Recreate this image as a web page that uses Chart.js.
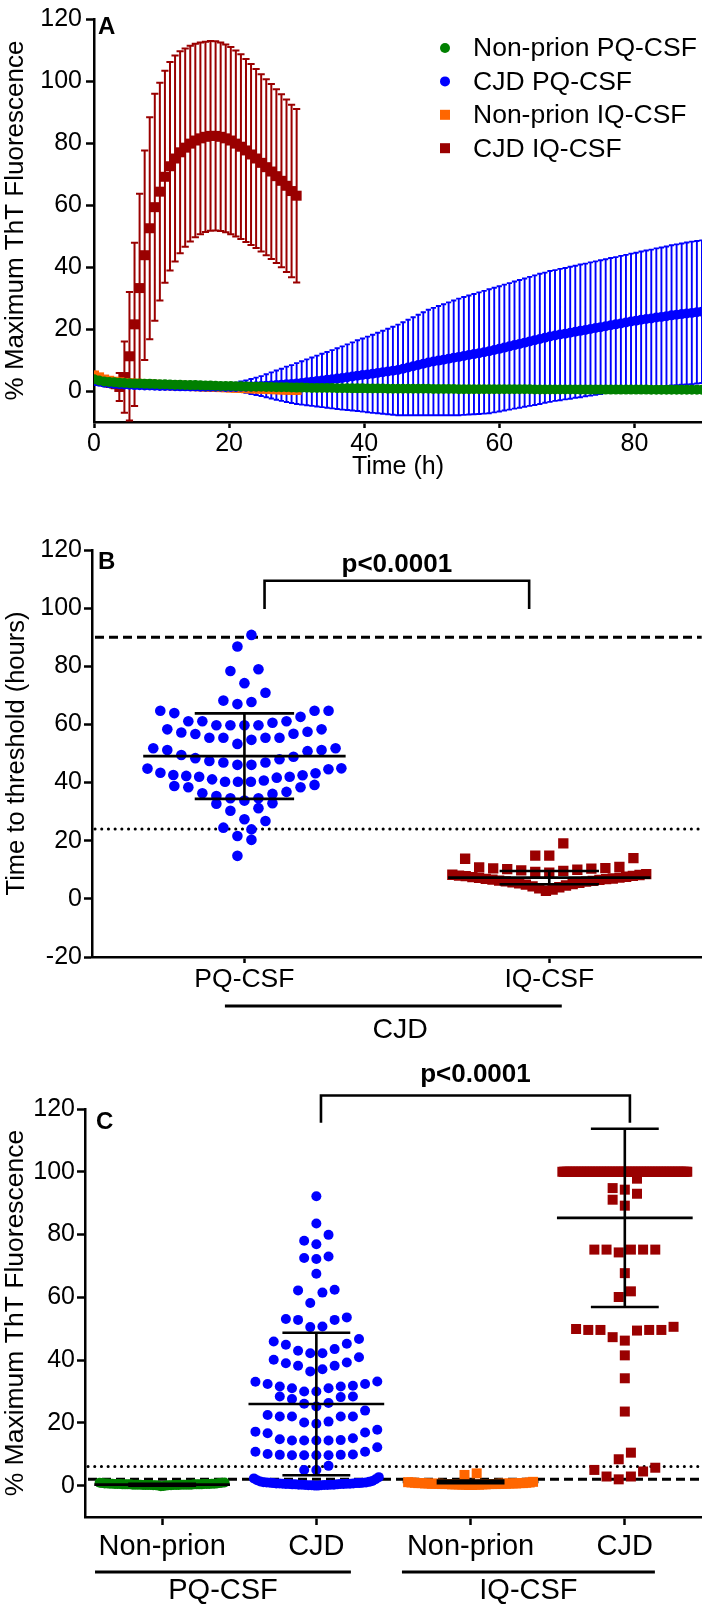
<!DOCTYPE html>
<html>
<head>
<meta charset="utf-8">
<title>RT-QuIC ThT fluorescence</title>
<script src="https://cdn.jsdelivr.net/npm/chart.js@4.4.1/dist/chart.umd.min.js"></script>
<style>
  html, body { margin:0; padding:0; background:#ffffff; }
  body { width:709px; height:1611px; position:relative; overflow:hidden; }
  .panel { position:absolute; left:0; width:709px; }
  #pa { top:0; height:480px; }
  #pb { top:490px; height:555px; }
  #pc { top:1050px; height:561px; }
</style>
</head>
<body>
<div class="panel" id="pa"><canvas id="chartA"></canvas></div>
<div class="panel" id="pb"><canvas id="chartB"></canvas></div>
<div class="panel" id="pc"><canvas id="chartC"></canvas></div>
<script>
// ======================= DATA =======================
// ---- Panel A : kinetics (mean, SD) ----
const seriesA = ['Non-prion PQ-CSF', 'CJD PQ-CSF', 'Non-prion IQ-CSF', 'CJD IQ-CSF'];
const timeA = [0,0.75,1.5,2.25,3,3.75,4.5,5.25,6,6.75,7.5,8.25,
  9,9.75,10.5,11.25,12,12.75,13.5,14.25,15,15.75,16.5,17.25,
  18,18.75,19.5,20.25,21,21.75,22.5,23.25,24,24.75,25.5,26.25,
  27,27.75,28.5,29.25,30,30.75,31.5,32.25,33,33.75,34.5,35.25,
  36,36.75,37.5,38.25,39,39.75,40.5,41.25,42,42.75,43.5,44.25,
  45,45.75,46.5,47.25,48,48.75,49.5,50.25,51,51.75,52.5,53.25,
  54,54.75,55.5,56.25,57,57.75,58.5,59.25,60,60.75,61.5,62.25,
  63,63.75,64.5,65.25,66,66.75,67.5,68.25,69,69.75,70.5,71.25,
  72,72.75,73.5,74.25,75,75.75,76.5,77.25,78,78.75,79.5,80.25,
  81,81.75,82.5,83.25,84,84.75,85.5,86.25,87,87.75,88.5,89.25,
  90];
const timeIQ = [0,0.75,1.5,2.25,3,3.75,4.5,5.25,6,6.75,7.5,8.25,
  9,9.75,10.5,11.25,12,12.75,13.5,14.25,15,15.75,16.5,17.25,
  18,18.75,19.5,20.25,21,21.75,22.5,23.25,24,24.75,25.5,26.25,
  27,27.75,28.5,29.25,30];
const nonPrionPQMean = [3.8,3.4,3.1,2.9,2.8,2.7,2.6,2.5,2.45,2.4,2.35,2.3,
  2.25,2.2,2.15,2.1,2.05,2.0,1.95,1.9,1.9,1.85,1.8,1.75,
  1.7,1.65,1.6,1.6,1.55,1.5,1.45,1.4,1.4,1.35,1.3,1.3,
  1.25,1.2,1.2,1.15,1.1,1.1,1.05,1.0,1.0,1.0,0.95,0.95,
  0.9,0.9,0.9,0.85,0.85,0.85,0.8,0.8,0.8,0.8,0.75,0.75,
  0.75,0.75,0.7,0.7,0.7,0.7,0.7,0.65,0.65,0.65,0.65,0.65,
  0.6,0.6,0.6,0.6,0.6,0.6,0.6,0.6,0.55,0.55,0.55,0.55,
  0.55,0.55,0.55,0.5,0.5,0.5,0.5,0.5,0.5,0.5,0.5,0.5,
  0.45,0.45,0.45,0.45,0.45,0.45,0.45,0.45,0.45,0.45,0.45,0.45,
  0.45,0.45,0.4,0.4,0.4,0.4,0.4,0.4,0.4,0.4,0.4,0.4,
  0.4];
const nonPrionPQSD = [1.2,1.1,1.0,1.0,0.9,0.9,0.9,0.9,0.8,0.8,0.8,0.8,
  0.8,0.8,0.8,0.8,0.8,0.8,0.7,0.7,0.7,0.7,0.7,0.7,
  0.7,0.7,0.7,0.7,0.7,0.7,0.7,0.7,0.7,0.7,0.7,0.7,
  0.7,0.7,0.7,0.7,0.7,0.7,0.6,0.6,0.6,0.6,0.6,0.6,
  0.6,0.6,0.6,0.6,0.6,0.6,0.6,0.6,0.6,0.6,0.6,0.6,
  0.6,0.6,0.6,0.6,0.6,0.6,0.6,0.6,0.6,0.6,0.6,0.6,
  0.5,0.5,0.5,0.5,0.5,0.5,0.5,0.5,0.5,0.5,0.5,0.5,
  0.5,0.5,0.5,0.5,0.5,0.5,0.5,0.5,0.5,0.5,0.5,0.5,
  0.5,0.5,0.5,0.5,0.5,0.5,0.5,0.5,0.5,0.5,0.5,0.5,
  0.5,0.5,0.5,0.5,0.5,0.5,0.5,0.5,0.5,0.5,0.5,0.5,
  0.5];
const cjdPQMean = [3.2,3.0,2.7,2.5,2.3,2.2,2.1,2.0,1.9,1.85,1.8,1.75,
  1.7,1.65,1.6,1.6,1.55,1.5,1.5,1.45,1.45,1.4,1.4,1.4,
  1.35,1.35,1.3,1.3,1.3,1.35,1.4,1.45,1.5,1.6,1.7,1.8,
  1.9,2.0,2.15,2.25,2.4,2.6,2.8,3.0,3.2,3.4,3.6,3.8,
  4.0,4.2,4.45,4.7,4.95,5.15,5.35,5.55,5.8,6.05,6.3,6.55,
  6.8,7.2,7.6,8.0,8.4,8.8,9.2,9.5,9.8,10.1,10.4,10.7,
  11.0,11.3,11.6,11.9,12.2,12.5,12.8,13.2,13.6,14.0,14.4,14.8,
  15.2,15.6,16.0,16.4,16.8,17.2,17.6,17.9,18.2,18.5,18.8,19.1,
  19.4,19.7,20.0,20.3,20.6,20.9,21.2,21.5,21.8,22.1,22.4,22.7,
  23.0,23.2,23.4,23.7,23.9,24.1,24.4,24.6,24.8,25.0,25.2,25.4,
  25.6];
const cjdPQSD = [1.2,1.1,1.0,1.0,0.9,0.9,0.9,0.8,0.8,0.8,0.8,0.8,
  0.8,0.8,0.8,0.8,0.8,0.8,0.8,0.8,0.9,0.9,0.9,0.9,
  1.0,1.0,1.1,1.2,1.4,1.7,2.0,2.4,2.8,3.2,3.7,4.2,
  4.7,5.2,5.7,6.1,6.6,7.0,7.4,7.8,8.2,8.6,9.0,9.4,
  9.8,10.2,10.6,11.0,11.4,11.8,12.2,12.6,13.0,13.4,13.8,14.2,
  14.6,15.0,15.4,15.8,16.2,16.6,17.0,17.3,17.6,17.9,18.2,18.5,
  18.8,19.0,19.2,19.4,19.6,19.8,20.0,20.1,20.2,20.3,20.4,20.5,
  20.6,20.7,20.8,20.9,21.0,21.0,21.1,21.1,21.2,21.2,21.3,21.3,
  21.4,21.4,21.5,21.5,21.6,21.6,21.7,21.7,21.8,21.8,21.9,21.9,
  22.0,22.1,22.2,22.3,22.4,22.5,22.6,22.7,22.8,22.9,23.0,23.0,
  23.0];
const nonPrionIQMean = [5.0,4.4,3.7,3.3,3.0,2.8,2.6,2.5,2.4,2.3,2.2,2.1,
  2.0,1.95,1.9,1.85,1.8,1.7,1.65,1.6,1.55,1.5,1.4,1.35,
  1.3,1.25,1.2,1.1,1.05,1.0,0.9,0.85,0.8,0.75,0.7,0.6,
  0.55,0.5,0.45,0.4,0.35];
const nonPrionIQSD = [1.3,1.2,1.1,1.0,1.0,1.0,1.0,1.0,1.0,1.0,1.0,1.0,
  1.0,1.0,1.0,1.0,1.0,1.0,1.0,1.0,1.0,1.0,1.0,1.0,
  1.1,1.1,1.1,1.1,1.1,1.1,1.2,1.2,1.2,1.2,1.2,1.2,
  1.3,1.3,1.3,1.3,1.3];
const cjdIQMean = [4.4,3.8,3.2,2.8,2.4,1.3,4.5,11.2,21.5,33.2,43.8,52.5,
  59.3,64.3,69.1,72.5,75.0,77.0,78.5,79.8,80.8,81.5,82.0,82.3,
  82.3,82.0,81.5,80.8,79.8,78.8,77.6,76.3,75.0,73.6,72.2,70.8,
  69.3,67.8,66.2,64.5,63.0];
const cjdIQSD = [1.5,1.5,1.5,1.5,1.5,4.5,11.5,20.7,26.3,30.4,33.8,35.8,
  36.6,35.1,34.2,33.6,33.2,32.6,32.0,31.6,31.2,30.9,30.7,30.6,
  30.5,30.4,30.3,30.2,30.0,29.8,29.5,29.2,28.9,28.6,28.4,28.2,
  28.0,27.9,27.8,27.8,28.0];
const xTicksA = [0, 20, 40, 60, 80];
const yTicksA = [0, 20, 40, 60, 80, 100, 120];

// ---- Panel B : time to threshold (hours) ----
const catsB = ['PQ-CSF', 'IQ-CSF'];
const groupB = 'CJD';
const ttPQ = [90.8,86.8,79.0,78.4,74.2,70.9,68.2,67.7,67.0,64.7,64.7,64.7,63.9,62.6,
  61.1,61.1,59.7,59.7,58.3,57.5,56.8,56.7,57.2,58.3,59.7,59.7,60.6,61.1,
  55.4,55.4,54.7,51.8,51.2,50.8,51.2,51.8,53.3,55.4,55.4,
  49.5,48.4,47.4,46.9,46.1,44.9,44.6,44.8,46.1,46.9,48.0,48.9,
  43.2,42.6,42.3,41.7,41.1,40.7,40.3,39.2,38.8,40.3,40.3,42.0,42.0,42.5,43.4,
  38.4,36.8,36.3,34.6,33.8,32.9,32.7,34.6,35.4,36.1,38.4,
  30.3,31.2,26.8,27.4,24.5,23.9,21.6,20.3,14.8];
const ttIQ = [19.1,14.9,14.9,14.0,13.8,11.0,10.8,10.6,10.5,10.4,10.2,10.0,9.8,9.6,9.3,9.0,
  8.5,8.3,8.2,8.0,7.9,7.8,7.6,7.5,7.3,7.2,7.0,6.9,6.8,6.6,6.5,6.3,6.2,6.0,5.9,5.7,
  5.5,5.3,5.1,4.9,4.6,4.3,4.0,3.6,3.2,2.8];
const meanB = [49.1, 7.3];
const sdB = [14.7, 2.3];
const thresholdsB = [90, 24];
const yTicksB = [-20, 0, 20, 40, 60, 80, 100, 120];
const pTextB = 'p<0.0001';

// ---- Panel C : end-point % maximum ThT fluorescence ----
const catsC = ['Non-prion', 'CJD', 'Non-prion', 'CJD'];
const groupsC = ['PQ-CSF', 'IQ-CSF'];
const fluNonPQ = [-0.2,-0.1,0.0,0.0,0.1,0.1,0.1,0.2,0.2,0.2,0.2,0.3,0.3,0.3,0.3,0.3,0.3,
  0.4,0.4,0.4,0.4,0.4,0.4,0.5,0.5,0.5,0.5,0.5,0.6,0.6,0.6,0.6,0.7,0.7,0.7,0.8,0.8,0.9,0.9,1.0,
  0.1,0.2,0.3,0.4,0.5,0.2,0.3,0.4,0.3,0.2];
const fluCjdPQ = [92.2,83.5,79.9,78.0,76.9,73.0,72.5,72.2,67.5,62.4,62.2,61.5,58.2,
  53.6,53.1,52.8,52.8,50.7,50.5,
  46.7,45.9,45.2,44.9,43.5,43.0,42.2,42.2,
  40.9,40.1,39.2,39.0,38.2,38.2,37.1,36.4,
  33.2,33.1,32.4,32.4,31.8,31.6,31.6,31.0,31.0,30.0,30.0,
  28.4,28.4,28.2,27.6,26.3,26.1,25.2,
  23.9,22.5,22.0,22.0,22.0,22.0,20.4,20.1,19.7,
  17.8,17.2,16.9,16.7,15.1,14.8,14.5,14.4,14.4,14.4,14.4,
  12.2,10.8,10.8,10.1,9.9,9.8,9.8,9.7,9.7,9.7,9.7,
  6.3,5.0,5.0,
  0.0,0.0,0.1,0.1,0.1,0.2,0.2,0.2,0.3,0.3,0.3,0.3,0.4,0.4,0.4,0.5,0.5,0.5,0.5,0.6,
  0.6,0.6,0.7,0.7,0.7,0.8,0.8,0.8,0.9,0.9,1.0,1.0,1.1,1.2,1.3,1.5,1.7,2.0,2.3,2.7];
const fluNonIQ = [0.2,0.2,0.3,0.3,0.3,0.4,0.4,0.4,0.4,0.5,0.5,0.5,0.5,0.5,0.6,0.6,0.6,0.6,0.6,
  0.7,0.7,0.7,0.7,0.8,0.8,0.8,0.9,0.9,1.0,1.0,1.1,1.2,0.3,0.4,0.5,0.6,0.7,0.8,3.4,3.9];
const fluCjdIQ = [100,100,100,100,100,100,100,100,100,100,100,100,100,100,100,100,100,100,100,100,
  100,100,100,100,100,100,100,100,100,100,100,100,100,100,100,100,100,100,100,100,
  100,100,100,100,100,100,100,100,100,100,100,100,100,100,100,100,100,100,100,100,
  100,100,100,100,100,100,100,100,100,100,100,100,100,100,100,100,100,100,100,100,
  100,100,
  97.8,94.8,94.3,93.0,91.1,89.2,75.2,75.2,75.2,75.2,75.2,74.3,67.7,61.9,60.1,
  50.6,49.9,49.6,49.6,49.6,49.6,49.4,47.3,46.2,41.5,34.2,23.6,10.5,8.4,
  5.7,5.0,4.5,2.9,2.9,2.0];
const meanC = [0.3, 26.0, 1.2, 85.3];
const sdC = [0.3, 22.7, 0.4, 28.4];
const thresholdsC = [6.1, 2.0];
const yTicksC = [0, 20, 40, 60, 80, 100, 120];
const pTextC = 'p<0.0001';

// ======================= STYLE / HELPERS =======================
const FONT = "'Liberation Sans', Arial, Helvetica, sans-serif";
Chart.defaults.font.family = FONT;
Chart.defaults.color = '#000';
const COLORS = { green: '#008000', blue: '#0000FF', orange: '#FF6600', red: '#9A0000' };

const pts = (xs, ys) => xs.map((t, i) => ({ x: t, y: ys[i] }));

// Prism-like scatter-dot layout: rows of similar values, lowest in the middle
function swarm(values, cat, rowH, dx, maxHalf) {
  const s = values.slice().sort((a, b) => a - b);
  const out = [];
  let i = 0;
  while (i < s.length) {
    const start = s[i];
    const row = [];
    while (i < s.length && s[i] < start + rowH - 1e-9) { row.push(s[i]); i++; }
    const n = row.length;
    let step = dx;
    if (n > 1 && (n - 1) * dx / 2 > maxHalf) step = 2 * maxHalf / (n - 1);
    const slots = [];
    for (let k = 0; k < n; k++) slots.push(k - (n - 1) / 2);
    slots.sort((a, b) => Math.abs(a) - Math.abs(b) || a - b);
    row.forEach((v, k) => out.push({ x: cat + slots[k] * step, y: v }));
  }
  return out;
}

function axisLook(tickLength) {
  return {
    grid: { display: true, drawOnChartArea: false, drawTicks: true, tickLength: tickLength, tickWidth: 2.5, tickColor: '#000' },
    border: { display: true, color: '#000', width: 2.5 }
  };
}
const fixedTicks = (values) => (scale) => { scale.ticks = values.map(v => ({ value: v })); };

function letterPlugin(letter, x, y) {
  return {
    id: 'letter' + letter,
    afterDraw(chart) {
      const ctx = chart.ctx;
      ctx.save();
      ctx.font = `bold 24px ${FONT}`;
      ctx.fillStyle = '#000';
      ctx.textAlign = 'left';
      ctx.textBaseline = 'middle';
      ctx.fillText(letter, x, y);
      ctx.restore();
    }
  };
}

const errorBarPlugin = {
  id: 'errorBars',
  beforeDatasetsDraw(chart) {
    const { ctx, chartArea: ca } = chart;
    const xs = chart.scales.x, ys = chart.scales.y;
    ctx.save();
    ctx.beginPath();
    ctx.rect(ca.left, ca.top, ca.right - ca.left, ca.bottom - ca.top);
    ctx.clip();
    const dsets = chart.data.datasets;
    for (let d = dsets.length - 1; d >= 0; d--) {
      const ds = dsets[d];
      if (!ds.errorSD) continue;
      ctx.strokeStyle = ds.pointBackgroundColor;
      ctx.lineWidth = ds.errorLineWidth;
      ctx.beginPath();
      ds.data.forEach((p, i) => {
        const px = xs.getPixelForValue(p.x);
        const top = ys.getPixelForValue(p.y + ds.errorSD[i]);
        const bot = ys.getPixelForValue(p.y - ds.errorSD[i]);
        const c = ds.errorCap;
        ctx.moveTo(px, top); ctx.lineTo(px, bot);
        ctx.moveTo(px - c, top); ctx.lineTo(px + c, top);
        ctx.moveTo(px - c, bot); ctx.lineTo(px + c, bot);
      });
      ctx.stroke();
    }
    ctx.restore();
  }
};

const legendAPlugin = {
  id: 'legendA',
  afterDraw(chart) {
    const ctx = chart.ctx;
    ctx.save();
    chart.data.datasets.forEach((ds, i) => {
      const y = 48 + i * 33.4;
      ctx.fillStyle = ds.pointBackgroundColor;
      if (ds.pointStyle === 'circle') {
        ctx.beginPath(); ctx.arc(445, y, 5, 0, Math.PI * 2); ctx.fill();
      } else {
        ctx.fillRect(440, y - 5, 10, 10);
      }
      ctx.fillStyle = '#000';
      ctx.font = `26.5px ${FONT}`;
      ctx.textAlign = 'left';
      ctx.textBaseline = 'middle';
      ctx.fillText(ds.label, 473, y + 1);
    });
    ctx.restore();
  }
};

function mkSeries(label, xs, ys, sd, color, shape, r, lw, cap) {
  return {
    label, data: pts(xs, ys), errorSD: sd, errorLineWidth: lw, errorCap: cap,
    pointStyle: shape, pointRadius: r, pointBackgroundColor: color, pointBorderWidth: 0,
    borderColor: color, backgroundColor: color, showLine: false
  };
}

// decoration for the dot plots (reference lines, mean/SD, brackets, group labels)
function decorPlugin(cfg) {
  function summary(ctx, x, y, below) {
    ctx.strokeStyle = '#000';
    ctx.lineWidth = 2.6;
    ctx.setLineDash([]);
    cfg.means.forEach((m, i) => {
      const c = i + 1, sd = cfg.sds[i];
      const mb = cfg.meanBelow && cfg.meanBelow[i];
      ctx.beginPath();
      if (below) {
        if (mb) { ctx.moveTo(x.getPixelForValue(c - cfg.meanHalf), y.getPixelForValue(m)); ctx.lineTo(x.getPixelForValue(c + cfg.meanHalf), y.getPixelForValue(m)); }
      } else {
        if (!mb) { ctx.moveTo(x.getPixelForValue(c - cfg.meanHalf), y.getPixelForValue(m)); ctx.lineTo(x.getPixelForValue(c + cfg.meanHalf), y.getPixelForValue(m)); }
        const cx = x.getPixelForValue(c);
        ctx.moveTo(cx, y.getPixelForValue(m - sd)); ctx.lineTo(cx, y.getPixelForValue(m + sd));
        [m - sd, m + sd].forEach(v => {
          ctx.moveTo(x.getPixelForValue(c - cfg.sdHalf), y.getPixelForValue(v));
          ctx.lineTo(x.getPixelForValue(c + cfg.sdHalf), y.getPixelForValue(v));
        });
      }
      ctx.stroke();
    });
  }
  return {
    id: 'decor' + cfg.name,
    beforeDatasetsDraw(chart) {
      const { ctx, chartArea: ca, scales: { x, y } } = chart;
      ctx.save();
      cfg.refLines.forEach((v, i) => {
        const st = cfg.refStyles[i];
        ctx.beginPath();
        ctx.strokeStyle = '#000';
        ctx.lineWidth = st.width;
        ctx.lineCap = st.cap;
        ctx.setLineDash(st.dash);
        const py = y.getPixelForValue(v);
        ctx.moveTo(ca.left + 3, py); ctx.lineTo(ca.right, py);
        ctx.stroke();
      });
      ctx.lineCap = 'butt';
      summary(ctx, x, y, true);
      ctx.restore();
    },
    afterDatasetsDraw(chart) {
      const { ctx, scales: { x, y } } = chart;
      ctx.save();
      summary(ctx, x, y, false);
      ctx.restore();
    },
    afterDraw(chart) {
      const { ctx, chartArea: ca, scales: { x, y } } = chart;
      ctx.save();
      ctx.strokeStyle = '#000';
      ctx.fillStyle = '#000';
      ctx.setLineDash([]);
      // significance bracket
      const b = cfg.bracket;
      ctx.lineWidth = 2.6;
      ctx.beginPath();
      ctx.moveTo(x.getPixelForValue(b.x1), y.getPixelForValue(b.yLeg));
      ctx.lineTo(x.getPixelForValue(b.x1), y.getPixelForValue(b.yTop));
      ctx.lineTo(x.getPixelForValue(b.x2), y.getPixelForValue(b.yTop));
      ctx.lineTo(x.getPixelForValue(b.x2), y.getPixelForValue(b.yLeg));
      ctx.stroke();
      ctx.font = `bold 26px ${FONT}`;
      ctx.textAlign = 'center';
      ctx.textBaseline = 'middle';
      ctx.fillText(b.text, x.getPixelForValue((b.x1 + b.x2) / 2), y.getPixelForValue(b.textY));
      // grouping lines and labels under the axis
      cfg.groups.forEach(g => {
        ctx.lineWidth = 3;
        ctx.beginPath();
        const ly = ca.bottom + cfg.groupLineOffset;
        ctx.moveTo(x.getPixelForValue(g.from), ly);
        ctx.lineTo(x.getPixelForValue(g.to), ly);
        ctx.stroke();
        ctx.font = `${cfg.groupFont}px ${FONT}`;
        ctx.fillText(g.text, x.getPixelForValue(g.labelAt), ca.bottom + cfg.groupLabelOffset);
      });
      ctx.restore();
    }
  };
}

const dotted = { width: 3, cap: 'round', dash: [0.1, 6.6] };
const dashed = { width: 3, cap: 'butt', dash: [9, 5] };

// ======================= PANEL A =======================
new Chart(document.getElementById('chartA'), {
  type: 'scatter',
  data: { datasets: [
    mkSeries(seriesA[0], timeA, nonPrionPQMean, nonPrionPQSD, COLORS.green, 'circle', 5, 1.5, 2.5),
    mkSeries(seriesA[1], timeA, cjdPQMean, cjdPQSD, COLORS.blue, 'circle', 5, 1.9, 2.6),
    mkSeries(seriesA[2], timeIQ, nonPrionIQMean, nonPrionIQSD, COLORS.orange, 'rect', 7.07, 1.5, 2.5),
    mkSeries(seriesA[3], timeIQ, cjdIQMean, cjdIQSD, COLORS.red, 'rect', 7.07, 2, 3.6)
  ] },
  options: {
    responsive: true, maintainAspectRatio: false, animation: false, events: [],
    layout: { padding: { top: 15, right: 1, bottom: 0, left: 0 } },
    plugins: { legend: { display: false }, tooltip: { enabled: false } },
    scales: {
      x: { type: 'linear', min: 0, max: 90, afterBuildTicks: fixedTicks(xTicksA),
           ticks: { font: { size: 25 }, padding: 1, maxRotation: 0, autoSkip: false, color: '#000' },
           ...axisLook(6),
           title: { display: true, text: 'Time (h)', font: { size: 25, lineHeight: 1.04 }, padding: 0, color: '#000' },
           afterFit: (s) => { s.height = 58; } },
      y: { type: 'linear', min: -10, max: 120, afterBuildTicks: fixedTicks(yTicksA),
           ticks: { font: { size: 25 }, padding: 4, color: '#000' },
           ...axisLook(8),
           title: { display: true, text: '% Maximum ThT Fluorescence', font: { size: 26 }, padding: 0, color: '#000' },
           afterFit: (s) => { s.width = 94; } }
    }
  },
  plugins: [errorBarPlugin, legendAPlugin, letterPlugin('A', 98, 27)]
});

// ======================= PANEL B =======================
new Chart(document.getElementById('chartB'), {
  type: 'scatter',
  data: { datasets: [
    { data: swarm(ttPQ, 1, 5.8, 0.046, 0.318), pointStyle: 'circle', pointRadius: 5.3,
      pointBackgroundColor: COLORS.blue, pointBorderWidth: 0 },
    { data: swarm(ttIQ, 2, 5.8, 0.046, 0.318), pointStyle: 'rect', pointRadius: 7.3,
      pointBackgroundColor: COLORS.red, pointBorderWidth: 0 }
  ] },
  options: {
    responsive: true, maintainAspectRatio: false, animation: false, events: [],
    layout: { padding: { top: 60, right: 2, bottom: 0, left: 0 } },
    plugins: { legend: { display: false }, tooltip: { enabled: false } },
    scales: {
      x: { type: 'linear', min: 0.5, max: catsB.length + 0.5, afterBuildTicks: fixedTicks(catsB.map((c, i) => i + 1)),
           ticks: { callback: (v) => catsB[Math.round(v) - 1], font: { size: 26.5 }, padding: 1, maxRotation: 0, autoSkip: false, color: '#000' },
           ...axisLook(6),
           afterFit: (s) => { s.height = 88; } },
      y: { type: 'linear', min: -20, max: 120, afterBuildTicks: fixedTicks(yTicksB),
           ticks: { font: { size: 25 }, padding: 2, color: '#000' },
           ...axisLook(8),
           title: { display: true, text: 'Time to threshold (hours)', font: { size: 25.5 }, padding: { top: 2 }, color: '#000' },
           afterFit: (s) => { s.width = 92; } }
    }
  },
  plugins: [decorPlugin({
    name: 'B', refLines: thresholdsB, refStyles: [dashed, dotted],
    means: meanB, sds: sdB, meanHalf: 0.332, sdHalf: 0.163,
    bracket: { x1: 1.066, x2: 1.934, yTop: 109.4, yLeg: 99.7, textY: 115, text: pTextB },
    groups: [{ from: 0.936, to: 2.041, labelAt: 1.511, text: groupB }],
    groupLineOffset: 49, groupLabelOffset: 73, groupFont: 28.5
  }), letterPlugin('B', 98, 72)]
});

// ======================= PANEL C =======================
new Chart(document.getElementById('chartC'), {
  type: 'scatter',
  data: { datasets: [
    { data: swarm(fluNonPQ, 1, 4.6, 0.079, 0.405), pointStyle: 'circle', pointRadius: 5,
      pointBackgroundColor: COLORS.green, pointBorderWidth: 0 },
    { data: swarm(fluCjdPQ, 2, 4.6, 0.079, 0.405), pointStyle: 'circle', pointRadius: 5,
      pointBackgroundColor: COLORS.blue, pointBorderWidth: 0 },
    { data: swarm(fluNonIQ, 3, 3.0, 0.079, 0.405), pointStyle: 'rect', pointRadius: 7.07,
      pointBackgroundColor: COLORS.orange, pointBorderWidth: 0 },
    { data: swarm(fluCjdIQ, 4, 4.6, 0.079, 0.405), pointStyle: 'rect', pointRadius: 7.07,
      pointBackgroundColor: COLORS.red, pointBorderWidth: 0 }
  ] },
  options: {
    responsive: true, maintainAspectRatio: false, animation: false, events: [],
    layout: { padding: { top: 59, right: 7, bottom: 0, left: 0 } },
    plugins: { legend: { display: false }, tooltip: { enabled: false } },
    scales: {
      x: { type: 'linear', min: 0.5, max: catsC.length + 0.5, afterBuildTicks: fixedTicks(catsC.map((c, i) => i + 1)),
           ticks: { callback: (v) => catsC[Math.round(v) - 1], font: { size: 29 }, padding: 5, maxRotation: 0, autoSkip: false, color: '#000' },
           ...axisLook(8),
           afterFit: (s) => { s.height = 94; } },
      y: { type: 'linear', min: -10, max: 120, afterBuildTicks: fixedTicks(yTicksC),
           ticks: { font: { size: 25 }, padding: 2, color: '#000' },
           ...axisLook(8),
           title: { display: true, text: '% Maximum ThT Fluorescence', font: { size: 26.5 }, padding: 0, color: '#000' },
           afterFit: (s) => { s.width = 85; } }
    }
  },
  plugins: [decorPlugin({
    name: 'C', refLines: thresholdsC, refStyles: [dotted, dashed],
    means: meanC, sds: sdC, meanHalf: 0.44, sdHalf: 0.22, meanBelow: [false, false, true, false],
    bracket: { x1: 2.03, x2: 4.033, yTop: 124.3, yLeg: 115.6, textY: 131, text: pTextC },
    groups: [{ from: 0.565, to: 2.224, labelAt: 1.395, text: groupsC[0] },
             { from: 2.555, to: 4.195, labelAt: 3.375, text: groupsC[1] }],
    groupLineOffset: 55, groupLabelOffset: 74, groupFont: 29
  }), letterPlugin('C', 96, 72)]
});
</script>
</body>
</html>
